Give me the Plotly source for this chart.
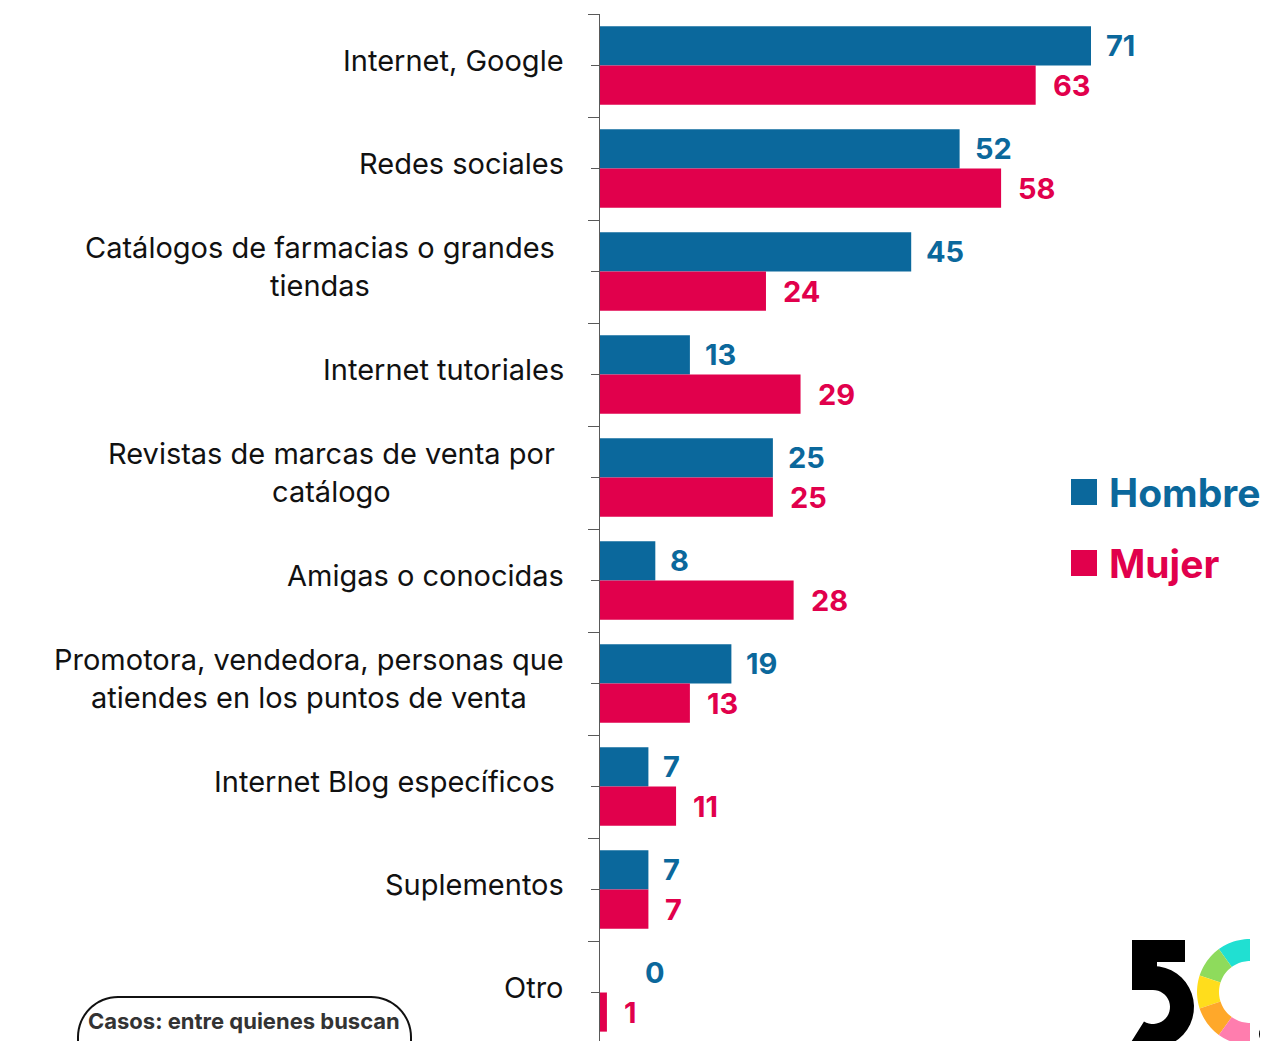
import math
import plotly.graph_objects as go

categories = [
    "Internet, Google",
    "Redes sociales",
    "Catálogos de farmacias o grandes<br>tiendas",
    "Internet tutoriales",
    "Revistas de marcas de venta por<br>catálogo",
    "Amigas o conocidas",
    "Promotora, vendedora, personas que<br>atiendes en los puntos de venta",
    "Internet Blog específicos",
    "Suplementos",
    "Otro",
]
hombre = [71, 52, 45, 13, 25, 8, 19, 7, 7, 0]
mujer = [63, 58, 24, 29, 25, 28, 13, 11, 7, 1]
series_names = ["Hombre", "Mujer"]
note_text = "Casos: entre quienes buscan<br>información N: 177"

BLUE = "#0B689C"
PINK = "#E1004C"
FONT = "Inter, Poppins, sans-serif"

# page body has an 8px margin: figure is drawn from (8, 8)
OFF = 8
W, H = 1268 - OFF, 1041 - OFF
ML, MT = 600 - OFF, 14 - OFF
PW, PH = W - ML, H - MT
PX_PER_UNIT = 491 / 71.0
ROW_PX = 103.0


def px(x):  # reference pixel x -> paper
    return (x - OFF - ML) / PW


def py(y):  # reference pixel y -> paper
    return (H - (y - OFF)) / PH


ypos = list(range(len(categories)))

fig = go.Figure()
fig.add_trace(go.Bar(y=ypos, x=hombre, orientation="h", name=series_names[0],
                     marker=dict(color=BLUE, line=dict(width=0))))
fig.add_trace(go.Bar(y=ypos, x=mujer, orientation="h", name=series_names[1],
                     marker=dict(color=PINK, line=dict(width=0))))

ann = []
extra_pad = {2: 9, 4: 9, 7: 9}
for i, c in enumerate(categories):
    ann.append(dict(x=0, xref="paper", y=i, yref="y", text=c, showarrow=False,
                    xanchor="right", yanchor="middle", align="center",
                    xshift=-34 - extra_pad.get(i, 0), yshift=5,
                    font=dict(family=FONT, size=29, color="#111111")))
for i, (h, m) in enumerate(zip(hombre, mujer)):
    ann.append(dict(x=h, y=i - 0.19, text=str(h), showarrow=False, xanchor="left",
                    yanchor="middle", xshift=43 if h == 0 else 13,
                    font=dict(family=FONT, size=29, color=BLUE, weight="bold")))
    ann.append(dict(x=m, y=i + 0.19, text=str(m), showarrow=False, xanchor="left",
                    yanchor="middle", xshift=15,
                    font=dict(family=FONT, size=29, color=PINK, weight="bold")))

shapes = []
for name, col, cy in [(series_names[0], BLUE, 492), (series_names[1], PINK, 563)]:
    shapes.append(dict(type="rect", xref="paper", yref="paper", x0=px(1071), x1=px(1097),
                       y0=py(cy + 13), y1=py(cy - 13), fillcolor=col, line=dict(width=0)))
    ann.append(dict(x=px(1107), xref="paper", y=py(cy), yref="paper", text=name,
                    showarrow=False, xanchor="left", yanchor="middle",
                    font=dict(family=FONT, size=39, color=col, weight="bold")))


def to_path(pts):
    return "M " + " L ".join(f"{px(x):.5f},{py(y):.5f}" for x, y in pts) + " Z"


def rounded_box(x0, y0, x1, y1, r, n=16):
    pts = []
    corners = [(x1 - r, y0 + r, -90, 0), (x1 - r, y1 - r, 0, 90),
               (x0 + r, y1 - r, 90, 180), (x0 + r, y0 + r, 180, 270)]
    for cx, cy, a0, a1 in corners:
        for k in range(n + 1):
            a = math.radians(a0 + (a1 - a0) * k / n)
            pts.append((cx + r * math.cos(a), cy + r * math.sin(a)))
    return to_path(pts)


def ring(cx, cy, R, r, a0, a1, n=24):
    # screen angles (degrees, clockwise from +x with y downward)
    pts = []
    for j in range(n + 1):
        a = math.radians(a0 + (a1 - a0) * j / n)
        pts.append((cx + R * math.cos(a), cy + R * math.sin(a)))
    for j in range(n + 1):
        a = math.radians(a1 - (a1 - a0) * j / n)
        pts.append((cx + r * math.cos(a), cy + r * math.sin(a)))
    return to_path(pts)


shapes.append(dict(type="path", xref="paper", yref="paper",
                   path=rounded_box(78, 997, 411, 1110, 40),
                   line=dict(color="#111111", width=2), fillcolor="rgba(0,0,0,0)"))
ann.append(dict(x=px(244), xref="paper", y=py(1035), yref="paper",
                text=note_text, showarrow=False,
                xanchor="center", yanchor="middle", align="center",
                font=dict(family=FONT, size=22, color="#333333", weight="bold")))

# logo: "5"
blk = dict(xref="paper", yref="paper", fillcolor="#000000", line=dict(width=0))
shapes.append(dict(type="path", path=to_path([(1132, 940), (1185, 940), (1185, 962),
                                               (1157, 962), (1157, 990), (1132, 990)]), **blk))
shapes.append(dict(type="path", path=ring(1153, 1007, 41, 17, -90, 122), **blk))
# logo: coloured "C"
ring_cols = ["#20E0D2", "#8EDB5C", "#FFDD1C", "#FFA82A", "#FF7DAE"]
for k, col in enumerate(ring_cols):
    a0, a1 = -90 - 36 * k, -90 - 36 * (k + 1)
    shapes.append(dict(type="path", xref="paper", yref="paper",
                       path=ring(1250, 992, 53, 31, a0, a1, 12),
                       fillcolor=col, line=dict(width=0)))
# logo: dot
dot = [(1270 + 11 * math.cos(math.radians(a)), 1034 + 11 * math.sin(math.radians(a)))
       for a in range(0, 360, 15)]
shapes.append(dict(type="path", path=to_path(dot), **blk))

fig.update_layout(
    width=W, height=H,
    margin=dict(l=ML, r=0, t=MT, b=0, pad=0),
    paper_bgcolor="white", plot_bgcolor="white",
    barmode="group", bargap=0.24, bargroupgap=0,
    showlegend=False,
    xaxis=dict(range=[0, PW / PX_PER_UNIT], visible=False, fixedrange=True),
    yaxis=dict(range=[-0.5 + PH / ROW_PX, -0.5],
               tickmode="array", tickvals=ypos, showticklabels=False,
               ticks="outside", ticklen=8, tickcolor="#595959", tickwidth=1,
               showline=True, linecolor="#595959", linewidth=1, showgrid=False,
               zeroline=False,
               minor=dict(tickmode="linear", tick0=-0.5, dtick=1, ticks="outside",
                          ticklen=11, tickcolor="#595959", tickwidth=1, showgrid=False)),
    annotations=ann, shapes=shapes,
    font=dict(family=FONT),
)

fig.write_html("out.html")
